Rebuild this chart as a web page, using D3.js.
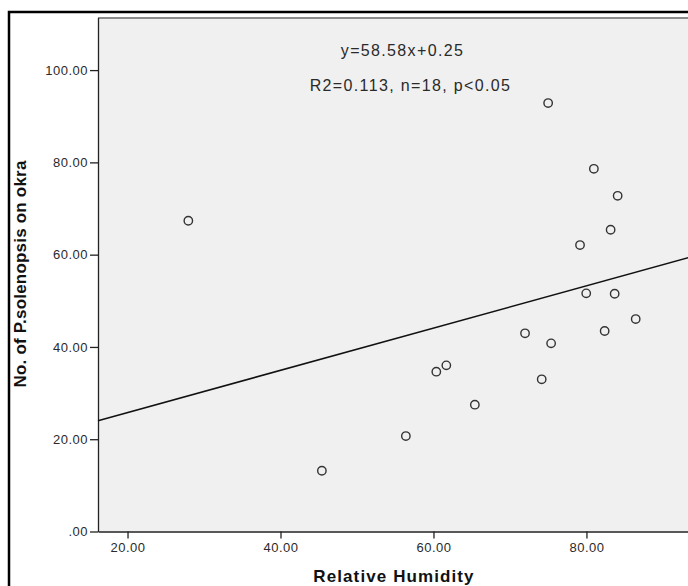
<!DOCTYPE html>
<html>
<head>
<meta charset="utf-8">
<script src="https://cdn.jsdelivr.net/npm/d3@7"></script>
<style>
  body { margin: 0; background: #fff; overflow: hidden; }
</style>
</head>
<body>
<div id="chart"></div>
<script>
// relative humidity (x) and number of P.solenopsis on okra (y)
var humidity = [27.95, 45.41, 56.39, 60.37, 61.68, 65.41, 71.97, 74.15, 74.99,
                75.38, 79.16, 79.97, 80.97, 82.38, 83.16, 83.69, 84.08, 86.44];
var counts   = [67.35, 13.17, 20.69, 34.63, 36.01, 27.48, 42.95, 32.98, 92.85,
                40.78, 62.08, 51.61, 78.61, 43.45, 65.40, 51.53, 72.76, 46.05];
var xTicks = [20, 40, 60, 80];
var yTicks = [0, 20, 40, 60, 80, 100];
// fitted line as drawn on the plot
var fitIntercept = 16.6;
var fitSlope = 0.458;
var notes = ["y=58.58x+0.25", "R2=0.113, n=18, p<0.05"];

function init(){
    var w = 688, h = 586;
    var left = 98, top = 17.5, right = 692, bottom = 531.5;

    var svg = d3.select("#chart")
                .append("svg")
                .attr("width", w)
                .attr("height", h);

    var x = d3.scaleLinear().domain([16.14, 93.8]).range([left, right]);
    var y = d3.scaleLinear().domain([0, 111.4]).range([bottom, top]);

    var fmt = function(d){ return d3.format(".2f")(d).replace(/^0\./, "."); };

    // outer frame
    svg.append("rect")
        .attr("x", 9).attr("y", 12)
        .attr("width", 700).attr("height", 600)
        .attr("fill", "none")
        .attr("stroke", "#000")
        .attr("stroke-width", 2.5);

    // plot background
    svg.append("rect")
        .attr("x", left).attr("y", top)
        .attr("width", right - left).attr("height", bottom - top)
        .attr("fill", "#f0f0f0");

    svg.append("line")
        .attr("x1", left).attr("x2", right)
        .attr("y1", top + 0.5).attr("y2", top + 0.5)
        .attr("stroke", "#8c8c8c")
        .attr("stroke-width", 2);

    var yAxis = svg.append("g")
        .attr("transform", "translate(" + left + ",0)")
        .call(d3.axisLeft(y).tickValues(yTicks).tickFormat(fmt)
              .tickSize(8).tickSizeOuter(0).tickPadding(2));

    var xAxis = svg.append("g")
        .attr("transform", "translate(0," + bottom + ")")
        .call(d3.axisBottom(x).tickValues(xTicks).tickFormat(fmt)
              .tickSize(7).tickSizeOuter(0).tickPadding(4));

    [yAxis, xAxis].forEach(function(g){
        g.select(".domain").attr("stroke", "#222").attr("stroke-width", 1.3);
        g.selectAll(".tick line").attr("stroke", "#222").attr("stroke-width", 1.3);
        g.selectAll(".tick text")
            .attr("fill", "#2a2a2a")
            .style("font-family", "'Liberation Sans', Arial, sans-serif")
            .style("font-size", "13px")
            .style("letter-spacing", "0.5px");
    });

    // regression line
    var xd = x.domain();
    svg.append("line")
        .attr("x1", x(xd[0])).attr("y1", y(fitIntercept + fitSlope * xd[0]))
        .attr("x2", x(xd[1])).attr("y2", y(fitIntercept + fitSlope * xd[1]))
        .attr("stroke", "#111")
        .attr("stroke-width", 1.6);

    // points
    svg.selectAll("circle.pt")
        .data(humidity)
        .enter()
        .append("circle")
        .attr("class", "pt")
        .attr("cx", function(d){ return x(d); })
        .attr("cy", function(d, i){ return y(counts[i]); })
        .attr("r", 4.2)
        .attr("fill", "none")
        .attr("stroke", "#333")
        .attr("stroke-width", 1.4);

    // annotation
    svg.selectAll("text.note")
        .data(notes)
        .enter()
        .append("text")
        .attr("class", "note")
        .attr("x", function(d, i){ return i == 0 ? 402.5 : 410.5; })
        .attr("y", function(d, i){ return i == 0 ? 56 : 91; })
        .attr("text-anchor", "middle")
        .attr("fill", "#2a2a2a")
        .style("font-family", "'Liberation Sans', Arial, sans-serif")
        .style("font-size", "16px")
        .style("letter-spacing", "1.35px")
        .text(function(d){ return d; });

    // axis titles
    svg.append("text")
        .attr("x", 394).attr("y", 582)
        .attr("text-anchor", "middle")
        .attr("fill", "#111")
        .style("font-family", "'Liberation Sans', Arial, sans-serif")
        .style("font-weight", "bold")
        .style("font-size", "17px")
        .style("letter-spacing", "1.1px")
        .text("Relative Humidity");

    svg.append("text")
        .attr("transform", "translate(26,274) rotate(-90)")
        .attr("text-anchor", "middle")
        .attr("fill", "#111")
        .style("font-family", "'Liberation Sans', Arial, sans-serif")
        .style("font-weight", "bold")
        .style("font-size", "17px")
        .style("letter-spacing", "0.2px")
        .text("No. of P.solenopsis on okra");
}
window.onload = init;
</script>
</body>
</html>
